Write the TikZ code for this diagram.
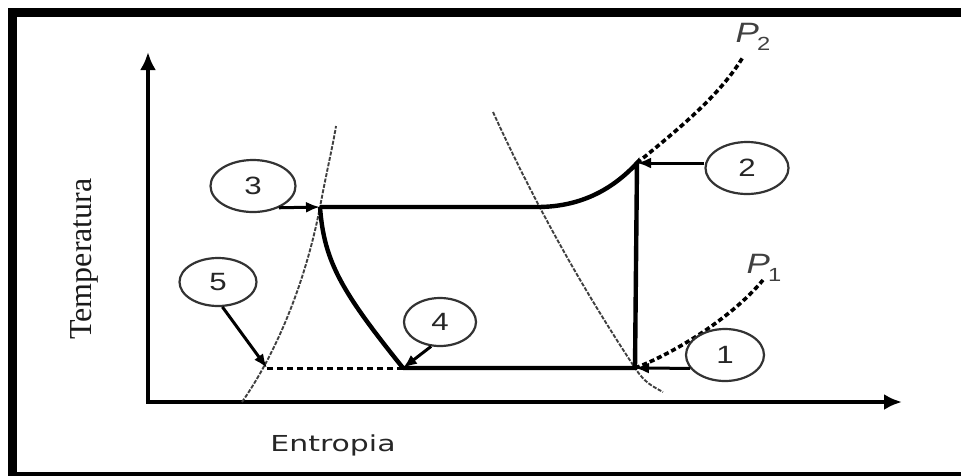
\documentclass[tikz,border=0pt]{standalone}
\usepackage{graphicx}
\usepackage{fontspec}
\setmainfont{Liberation Serif}
\setsansfont{Liberation Sans}
\newfontfamily\entfont{DejaVu Sans}
\usepackage{tikz}
\usetikzlibrary{arrows.meta,shapes.geometric}

\begin{document}
\begin{tikzpicture}[
    x=1pt, y=-1pt,
    tag/.style={draw=black!80, line width=2.2pt, ellipse, inner sep=0pt, text=black!85,
        font=\sffamily\fontsize{25}{25}\selectfont},
    arr/.style={-{Latex[length=14pt,width=11pt]}, line width=3pt},
    axis/.style={-{Latex[length=18pt,width=16pt]}, line width=4.5pt},
    cyc/.style={line width=4.4pt},
    sat/.style={draw=black!75, line width=1.9pt, dash pattern=on 4pt off 1.5pt},
    iso/.style={line width=3.6pt, dash pattern=on 5pt off 3pt},
    plab/.style={font=\sffamily\itshape\fontsize{28}{28}\selectfont, text=black!75, inner sep=0pt}
]
\useasboundingbox (0,0) rectangle (961,475);
\begin{scope}
  \clip (0,0) rectangle (961,475);
  \draw[line width=8.5pt] (12.25,12.25) rectangle (1000,476.5);
\end{scope}

\coordinate (o) at (148,402);
\coordinate (ytop) at (148,52);
\coordinate (xend) at (902,402);
\coordinate (p1) at (635,368);
\coordinate (p2) at (637,163);
\coordinate (p3) at (320,207);
\coordinate (p4) at (403,368);
\coordinate (p5) at (267,368);
\coordinate (sv) at (537,207);

\draw[axis] ([yshift=2.25pt]o) -- (ytop);
\draw[axis] ([xshift=-2.25pt]o) -- (xend);

\node[rotate=90, font=\fontsize{32}{32}\selectfont, text=black!90] (ylab) at (84,259) {Temperatura};
\node[font=\entfont\fontsize{22}{22}\selectfont, text=black!85] (xlab) at (333,445) {\scalebox{1.36}[1]{Entropia}};

\draw[sat] (242,402) .. controls (275,355) and (305,285) .. (p3) .. controls (328,165) and (333,145) .. (336,126);
\draw[sat] (493,112) .. controls (540,215) and (590,300) .. (p1) .. controls (645,383) and (652,386) .. (663,392);

\draw[iso] (p2) .. controls (680,128) and (720,95) .. (743,57);
\draw[iso] (p1) .. controls (670,355) and (730,320) .. (763,280);

\draw[cyc] (p3) -- (sv) .. controls (580,207) and (612,190) .. (p2) -- (p1) -- (p4);
\draw[cyc] (p3) .. controls (324,262) and (342,292) .. (p4);
\draw[line width=3pt, dash pattern=on 6pt off 4pt] (p4) -- (p5);

\node[plab] (lp2) at (753,37) {\scalebox{1.25}[1]{P\kern-1.5pt\raisebox{-0.3em}{\upshape\fontsize{19}{19}\selectfont 2}}};
\node[plab] (lp1) at (764,268) {\scalebox{1.25}[1]{P\kern-1.5pt\raisebox{-0.3em}{\upshape\fontsize{19}{19}\selectfont 1}}};

\node[tag, minimum width=85pt, minimum height=52pt] (c3) at (253,186) {\scalebox{1.25}[1]{3}};
\node[tag, minimum width=83pt, minimum height=52pt] (c2) at (747,168) {\scalebox{1.25}[1]{2}};
\node[tag, minimum width=78pt, minimum height=52pt] (c1) at (725,355) {\scalebox{1.25}[1]{1}};
\node[tag, minimum width=72pt, minimum height=48pt] (c4) at (440,322) {\scalebox{1.25}[1]{4}};
\node[tag, minimum width=77pt, minimum height=48pt] (c5) at (218,282) {\scalebox{1.25}[1]{5}};

\draw[arr] (c3.-40) -- (p3);
\draw[arr] (c2.west |- p2) -- (p2);
\draw[arr] (c1.201) -- (p1);
\draw[arr] (c4.250) -- (p4);
\draw[arr] (c5.-80) -- (p5);
\end{tikzpicture}
\end{document}
